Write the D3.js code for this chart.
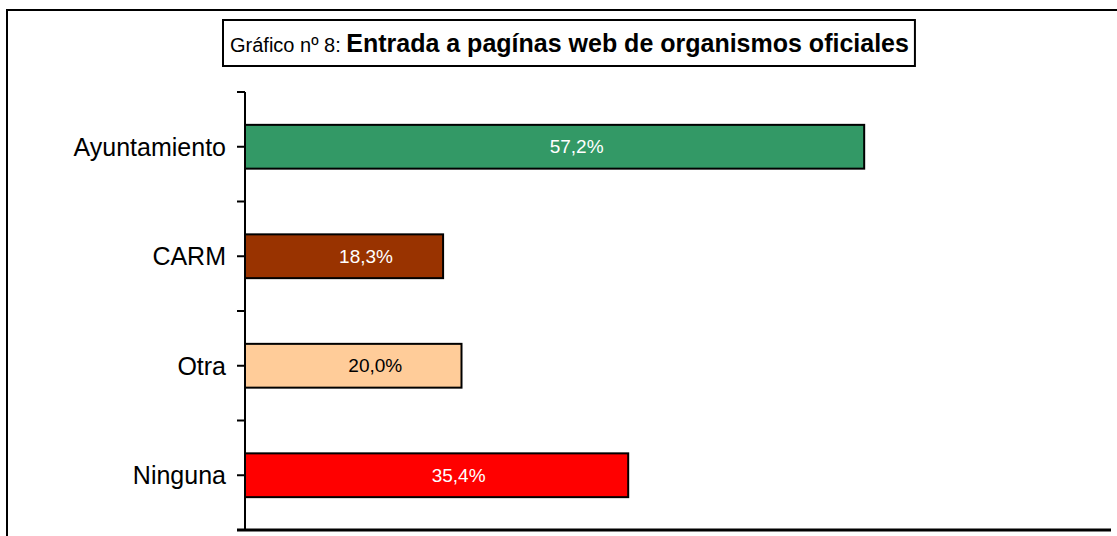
<!DOCTYPE html>
<html>
<head>
<meta charset="utf-8">
<script src="https://cdn.jsdelivr.net/npm/d3@7"></script>
<style>
    body { margin: 0; background: #fff; }
    svg { display: block; font-family: "Liberation Sans", Arial, sans-serif; }
</style>
</head>
<body>
<svg id="chart" width="1117" height="536"></svg>
<script>
const categories = ['Ayuntamiento', 'CARM', 'Otra', 'Ninguna'];
const values = [57.2, 18.3, 20.0, 35.4];
const barColors = ['#339966', '#993300', '#FFCC99', '#FF0000'];
const labelColors = ['#fff', '#fff', '#000', '#fff'];
const xDomain = [0, 80];
const titlePrefix = 'Gráfico nº 8: ';
const titleMain = 'Entrada a pagínas web de organismos oficiales';

const svg = d3.select('#chart');

const margin = { left: 245, right: 6, top: 92, bottom: 6 };
const width = 1117 - margin.left - margin.right;
const height = 536 - margin.top - margin.bottom;

// outer frame (only top and left visible)
svg.append('path')
    .attr('d', 'M7,536 V10 H1117')
    .attr('fill', 'none')
    .attr('stroke', '#000')
    .attr('stroke-width', 2);

// title box
const titleG = svg.append('g');
const titleText = titleG.append('text')
    .attr('x', 230)
    .attr('y', 52)
    .attr('fill', '#000');
titleText.append('tspan')
    .attr('font-size', 20)
    .text(titlePrefix);
titleText.append('tspan')
    .attr('font-size', 25)
    .attr('font-weight', 'bold')
    .text(titleMain);
const tb = titleText.node().getBBox();
titleG.insert('rect', 'text')
    .attr('x', 223)
    .attr('y', 20)
    .attr('width', tb.x + tb.width + 6 - 223)
    .attr('height', 46)
    .attr('fill', '#fff')
    .attr('stroke', '#000')
    .attr('stroke-width', 2);

const g = svg.append('g')
    .attr('transform', `translate(${margin.left},${margin.top})`);

const x = d3.scaleLinear()
    .domain(xDomain)
    .range([0, width]);

const y = d3.scaleBand()
    .domain(categories)
    .range([0, height])
    .paddingInner(0.6)
    .paddingOuter(0.3);

const step = y.step();

// y axis: boundary ticks outside, centre ticks crossing
const yAxis = g.append('g').attr('class', 'yAxis');
yAxis.append('line')
    .attr('x1', 0).attr('x2', 0)
    .attr('y1', 0).attr('y2', height)
    .attr('stroke', '#000').attr('stroke-width', 2);
yAxis.selectAll('.bound')
    .data(d3.range(categories.length + 1))
    .enter().append('line')
    .attr('class', 'bound')
    .attr('x1', -8).attr('x2', 0)
    .attr('y1', d => d * step).attr('y2', d => d * step)
    .attr('stroke', '#000').attr('stroke-width', 2);
yAxis.selectAll('.ctick')
    .data(categories)
    .enter().append('line')
    .attr('class', 'ctick')
    .attr('x1', -8).attr('x2', 6)
    .attr('y1', d => y(d) + y.bandwidth() / 2)
    .attr('y2', d => y(d) + y.bandwidth() / 2)
    .attr('stroke', '#000').attr('stroke-width', 2);
yAxis.selectAll('.clabel')
    .data(categories)
    .enter().append('text')
    .attr('class', 'clabel')
    .attr('x', -19)
    .attr('y', d => y(d) + y.bandwidth() / 2)
    .attr('dy', '0.35em')
    .attr('text-anchor', 'end')
    .attr('font-size', 25)
    .attr('fill', '#000')
    .text(d => d);

// x axis line
g.append('line')
    .attr('x1', -8).attr('x2', x(xDomain[1]))
    .attr('y1', height).attr('y2', height)
    .attr('stroke', '#000').attr('stroke-width', 3);

const bars = g.selectAll('.bar')
    .data(categories.map((c, i) => ({ c, v: values[i], i })))
    .enter().append('g')
    .attr('class', 'bar');

bars.append('rect')
    .attr('x', 0)
    .attr('y', d => y(d.c))
    .attr('width', d => x(d.v))
    .attr('height', y.bandwidth())
    .attr('fill', d => barColors[d.i])
    .attr('stroke', '#000')
    .attr('stroke-width', 2);

bars.append('text')
    .attr('x', d => x(d.v / 2) + 22)
    .attr('y', d => y(d.c) + y.bandwidth() / 2)
    .attr('dy', '0.35em')
    .attr('text-anchor', 'middle')
    .attr('font-size', 19)
    .attr('fill', d => labelColors[d.i])
    .text(d => d3.format('.1f')(d.v).replace('.', ',') + '%');
</script>
</body>
</html>
